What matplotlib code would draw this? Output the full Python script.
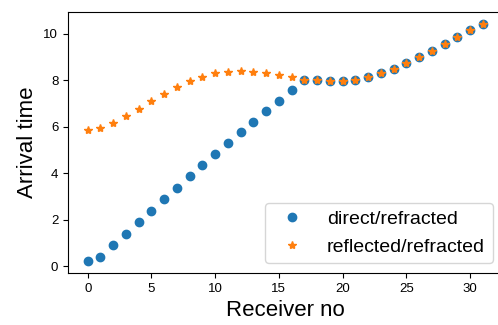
import matplotlib
matplotlib.use("Agg")
import matplotlib.pyplot as plt
import numpy as np

plt.rcParams["font.family"] = ["Liberation Sans", "DejaVu Sans"]

# ── data ──────────────────────────────────────────────────────────────────────
receivers = np.arange(32)

direct = [0.21, 0.40, 0.89, 1.38, 1.88, 2.38, 2.87, 3.37, 3.87, 4.36,
          4.83, 5.30, 5.76, 6.20, 6.66, 7.11, 7.56, 8.02, 8.01, 7.97,
          7.97, 8.02, 8.14, 8.30, 8.48, 8.72, 8.98, 9.27, 9.57, 9.87,
          10.16, 10.42]

reflected = [5.85, 5.95, 6.16, 6.45, 6.76, 7.09, 7.39, 7.69, 7.95, 8.15,
             8.30, 8.37, 8.38, 8.35, 8.31, 8.22, 8.15, 8.02, 8.01, 7.97,
             7.97, 8.02, 8.14, 8.30, 8.48, 8.72, 8.98, 9.27, 9.57, 9.87,
             10.16, 10.42]

# ── plot ──────────────────────────────────────────────────────────────────────
fig, ax = plt.subplots(figsize=(4.98, 3.25), dpi=100)
ax.plot(receivers, direct, "o", color="#1f77b4", markersize=6,
        label="direct/refracted")
ax.plot(receivers, reflected, "*", color="#ff7f0e", markersize=6,
        label="reflected/refracted")

ax.set_xlabel("Receiver no", fontsize=16)
ax.set_ylabel("Arrival time", fontsize=16)
ax.tick_params(labelsize=9.5)
ax.legend(loc="lower right", fontsize=14, numpoints=1)

# the right spine sits just past the image edge in the reference
fig.subplots_adjust(left=0.1365, right=1.009, top=0.963, bottom=0.16)
fig.savefig("out.png", dpi=100)
